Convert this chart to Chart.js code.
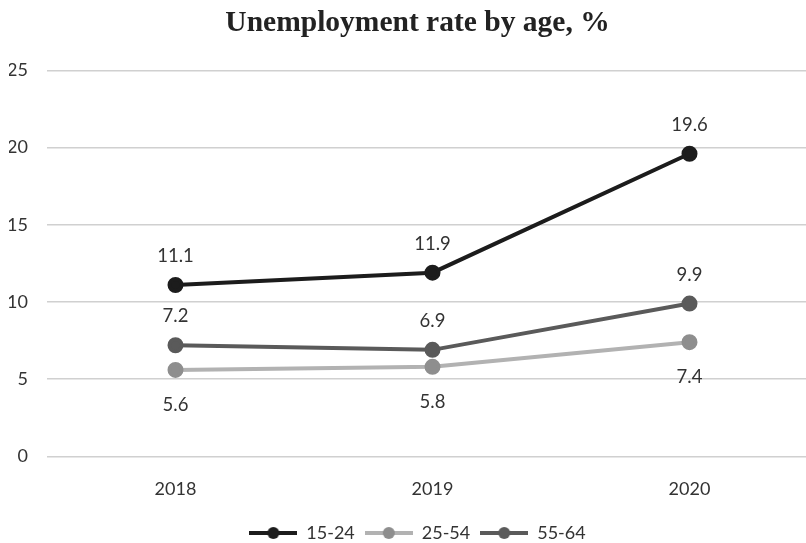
<!DOCTYPE html>
<html>
<head>
<meta charset="utf-8">
<script src="https://cdn.jsdelivr.net/npm/chart.js@4"></script>
<style>
  html, body { margin: 0; padding: 0; background: #fff; overflow: hidden; }
  #wrap { width: 828px; height: 554px; }
</style>
</head>
<body>
<div id="wrap"><canvas id="ageChart" width="828" height="554"></canvas></div>
<script>
const years = ['2018', '2019', '2020']
const ages = ['15-24', '25-54', '55-64']
const youth = [11.1, 11.9, 19.6]
const prime = [5.6, 5.8, 7.4]
const older = [7.2, 6.9, 9.9]
const yTicks = [0, 5, 10, 15, 20, 25]

const lineColors = ['#1c1c1c', '#b2b2b2', '#5a5a5a']
const dotColors = ['#1c1c1c', '#8e8e8e', '#5a5a5a']
const labelSide = ['above', 'below', 'above']

const tickFont = { family: 'Lato', size: 18 }

// small line-with-dot swatch for the legend
const makeSwatch = (line, dot) => {
    const c = document.createElement('canvas')
    c.width = 48
    c.height = 14
    const ctx = c.getContext('2d')
    ctx.strokeStyle = line
    ctx.lineWidth = 4
    ctx.beginPath()
    ctx.moveTo(0, 7)
    ctx.lineTo(48, 7)
    ctx.stroke()
    ctx.fillStyle = dot
    ctx.beginPath()
    ctx.arc(24, 7, 6, 0, Math.PI * 2)
    ctx.fill()
    return c
}

// value labels next to every point
const valueLabels = {
    id: 'valueLabels',
    afterDatasetsDraw(chart) {
        const ctx = chart.ctx
        ctx.save()
        ctx.font = '18.5px Lato'
        ctx.fillStyle = '#333'
        ctx.textAlign = 'center'
        ctx.textBaseline = 'middle'
        chart.data.datasets.forEach((ds, i) => {
            chart.getDatasetMeta(i).data.forEach((pt, j) => {
                const dy = labelSide[i] === 'above' ? -29 : 35
                ctx.fillText(ds.data[j].toFixed(1), pt.x, pt.y + dy)
            })
        })
        ctx.restore()
    }
}

const series = [youth, prime, older]

const data = {
    labels: years,
    datasets: series.map((values, i) => ({
        label: ages[i],
        data: values,
        borderColor: lineColors[i],
        backgroundColor: dotColors[i],
        pointBackgroundColor: dotColors[i],
        pointBorderColor: dotColors[i],
        borderWidth: 4,
        pointRadius: 6,
        pointHoverRadius: 6,
        tension: 0
    }))
}

const options = {
    responsive: false,
    animation: false,
    layout: { padding: { top: 4, right: 2, left: 9, bottom: 2 } },
    plugins: {
        title: {
            display: true,
            text: 'Unemployment rate by age, %',
            color: '#222',
            font: { family: 'Liberation Serif', size: 29.5, weight: 'bold' },
            padding: { top: 2, bottom: 29 }
        },
        legend: {
            position: 'bottom',
            labels: {
                usePointStyle: true,
                pointStyleWidth: 48,
                color: '#333',
                font: tickFont,
                padding: 10,
                generateLabels: chart => chart.data.datasets.map((ds, i) => ({
                    text: ds.label,
                    pointStyle: makeSwatch(lineColors[i], dotColors[i]),
                    fontColor: '#333',
                    lineWidth: 0,
                    hidden: false,
                    datasetIndex: i
                }))
            }
        },
        tooltip: { enabled: false }
    },
    scales: {
        x: {
            offset: true,
            grid: { display: false },
            border: { display: false },
            ticks: { color: '#333', font: tickFont, padding: 14 }
        },
        y: {
            min: 0,
            max: 25,
            afterBuildTicks: axis => { axis.ticks = yTicks.map(v => ({ value: v })) },
            afterFit: axis => { axis.width = 38 },
            grid: { color: '#d0d0d0', lineWidth: 1.5, drawTicks: false },
            border: { display: false },
            ticks: { color: '#333', font: tickFont, padding: 19 }
        }
    }
}

new Chart('ageChart', { type: 'line', data, options, plugins: [valueLabels] })
</script>
</body>
</html>
